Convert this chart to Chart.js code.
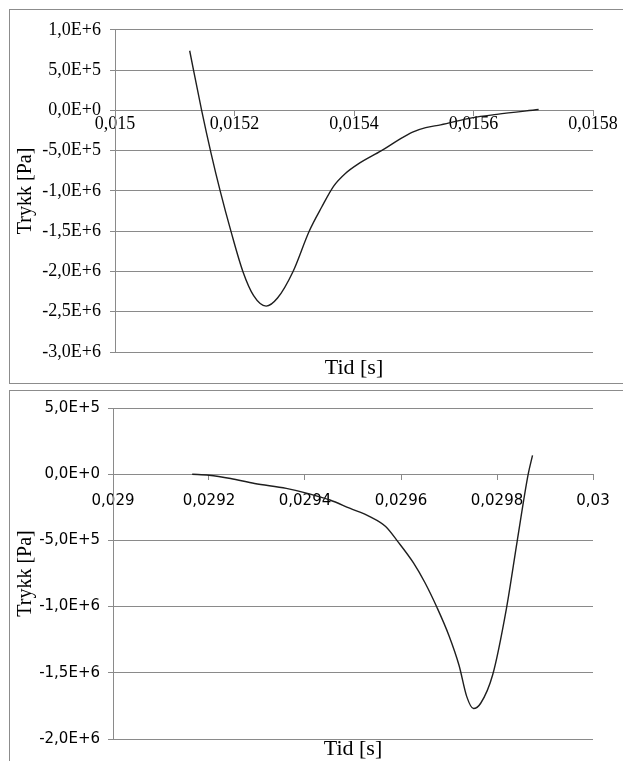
<!DOCTYPE html>
<html><head><meta charset="utf-8">
<script src="https://cdn.jsdelivr.net/npm/chart.js@4/dist/chart.umd.min.js"></script>
<style>
html,body{margin:0;padding:0;background:#fff;overflow:hidden;width:623px;height:761px;position:relative}
.frame{position:absolute;border:1px solid #8c8c8c;background:#fff;overflow:hidden}
#f1{left:9px;top:9px;width:640px;height:373px}
#f2{left:9px;top:390px;width:640px;height:400px}
canvas{position:absolute;left:0;top:0}
</style></head><body>
<div class="frame" id="f1"><canvas id="c1" width="613" height="373"></canvas></div>
<div class="frame" id="f2"><canvas id="c2" width="613" height="370"></canvas></div>
<script>
// ---- Chart 1 data ----
const time1 = [0.015125, 0.015145, 0.015161, 0.015176, 0.015194, 0.015214, 0.015232, 0.015253, 0.015272, 0.015298, 0.015325, 0.015346, 0.015366, 0.015386, 0.015406, 0.015446, 0.015474, 0.015498, 0.015520, 0.015545, 0.015599, 0.015639, 0.015709];
const pressure1 = [740000, 0, -540000, -1000000, -1500000, -2000000, -2300000, -2430000, -2330000, -2000000, -1500000, -1200000, -940000, -780000, -670000, -500000, -370000, -270000, -215000, -180000, -90000, -50000, 10000];
const xTickValues1 = [0.015, 0.0152, 0.0154, 0.0156, 0.0158];
const xTickLabels1 = ['0,015', '0,0152', '0,0154', '0,0156', '0,0158'];
const yTickValues1 = [1000000, 500000, 0, -500000, -1000000, -1500000, -2000000, -2500000, -3000000];
const yTickLabels1 = ['1,0E+6', '5,0E+5', '0,0E+0', '-5,0E+5', '-1,0E+6', '-1,5E+6', '-2,0E+6', '-2,5E+6', '-3,0E+6'];

// ---- Chart 2 data ----
const time2 = [0.029165, 0.0292, 0.029245, 0.029295, 0.029361, 0.029411, 0.029452, 0.029493, 0.029535, 0.029568, 0.029593, 0.029626, 0.029650, 0.029675, 0.029700, 0.029721, 0.029737, 0.029751, 0.029766, 0.029791, 0.029820, 0.029842, 0.029865, 0.029874];
const pressure2 = [0, -7500, -32000, -70000, -107000, -150000, -195000, -257000, -320000, -395000, -507000, -670000, -820000, -1007000, -1220000, -1445000, -1680000, -1770000, -1730000, -1515000, -1007000, -507000, 0, 142000];
const xTickValues2 = [0.029, 0.0292, 0.0294, 0.0296, 0.0298, 0.03];
const xTickLabels2 = ['0,029', '0,0292', '0,0294', '0,0296', '0,0298', '0,03'];
const yTickValues2 = [500000, 0, -500000, -1000000, -1500000, -2000000];
const yTickLabels2 = ['5,0E+5', '0,0E+0', '-5,0E+5', '-1,0E+6', '-1,5E+6', '-2,0E+6'];

const xTitle = 'Tid [s]';
const yTitle = 'Trykk [Pa]';

const GRID = '#8a8a8a';

function build(canvasId, xs, ys, xTV, xTL, yTV, yTL, st) {
  const pts = xs.map((x, i) => ({x: x, y: ys[i]}));
  return new Chart(document.getElementById(canvasId), {
    type: 'scatter',
    data: {datasets: [{
      data: pts, showLine: true, borderColor: '#1e1e1e', borderWidth: 1.4,
      pointRadius: 0, pointHoverRadius: 0, cubicInterpolationMode: 'monotone', fill: false
    }]},
    options: {
      responsive: false, animation: false, events: [],
      layout: {padding: {left: 0, top: st.top, right: st.right, bottom: 0}},
      plugins: {legend: {display: false}, tooltip: {enabled: false}, title: {display: false}},
      scales: {
        x: {
          type: 'linear', position: {y: 0}, min: xTV[0], max: xTV[xTV.length - 1],
          afterBuildTicks: s => { s.ticks = xTV.map(v => ({value: v})); },
          grid: {drawOnChartArea: false, drawTicks: true, tickLength: 5, color: GRID},
          border: {display: true, color: GRID, width: 1},
          ticks: {autoSkip: false, maxRotation: 0, padding: st.xPad, color: '#000', font: st.tickFont,
                  callback: (v, i) => xTL[i]}
        },
        xt: {
          type: 'linear', axis: 'x', position: 'bottom', min: 0, max: 1,
          grid: {display: false}, border: {display: false}, ticks: {display: false},
          afterFit: s => { s.height = st.xtH; },
          title: {display: true, text: xTitle, color: '#000',
                  font: {family: 'Liberation Serif', size: 22, lineHeight: 1.1},
                  padding: {top: 0, bottom: st.xtPadB}}
        },
        y: {
          type: 'linear', position: 'left', min: yTV[yTV.length - 1], max: yTV[0],
          afterBuildTicks: s => { s.ticks = yTV.slice().reverse().map(v => ({value: v})); },
          afterFit: s => { s.width = st.yW; },
          grid: {drawOnChartArea: true, drawTicks: true, tickLength: 5, color: GRID},
          border: {display: true, color: GRID, width: 1},
          ticks: {autoSkip: false, padding: st.yPad, color: '#000', font: st.tickFont,
                  callback: (v) => yTL[yTV.indexOf(v)]},
          title: {display: true, text: yTitle, color: '#000',
                  font: {family: 'Liberation Serif', size: 20, lineHeight: 1.2},
                  padding: {top: 4, bottom: 0}}
        }
      }
    }
  });
}

build('c1', time1, pressure1, xTickValues1, xTickLabels1, yTickValues1, yTickLabels1, {
  top: 13, right: 30, xtH: 31, xtPadB: 3, yW: 105, xPad: -2, yPad: 9,
  tickFont: {family: 'Liberation Serif', size: 18}
});
build('c2', time2, pressure2, xTickValues2, xTickLabels2, yTickValues2, yTickLabels2, {
  top: 13, right: 30, xtH: 22, xtPadB: 0, yW: 103, xPad: 13, yPad: 8,
  tickFont: {family: 'DejaVu Sans', size: 15}
});
</script>
</body></html>
